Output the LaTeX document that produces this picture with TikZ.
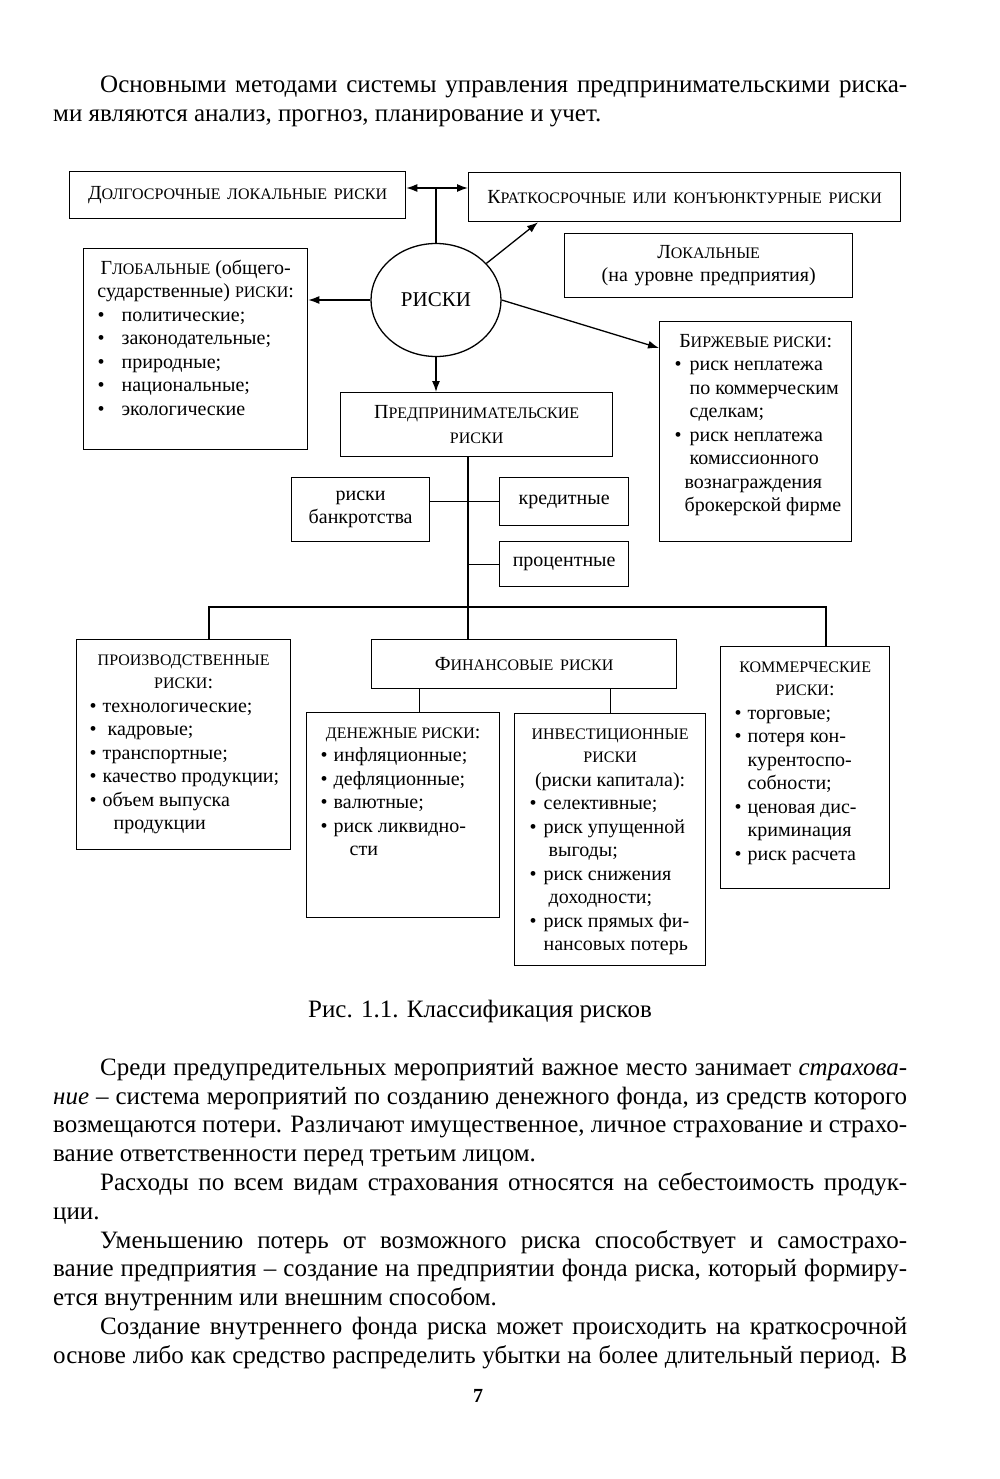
\documentclass[tikz,border=0pt]{standalone}
\usepackage{fontspec}
\setmainfont{Liberation Serif}
\usetikzlibrary{shapes.geometric,arrows.meta}
% small capitals (the font has none)
\newcommand\sm[1]{{\fontsize{16}{23.5}\selectfont #1}}
% centred line, bullet line, continued line inside a list box
\newcommand\ctr[1]{\null\hfill#1\hfill\null}
\newcommand\itm[3]{\hspace*{#1pt}\makebox[\dimexpr#2pt-#1pt\relax][l]{\textbullet}#3}
\newcommand\cnt[2]{\hspace*{#1pt}#2}
\newcommand\listbox[3]{\parbox[t][#2pt][t]{#1pt}{\vspace*{9pt}\strut#3}}
% justified line of the page text
\newcommand\jl[1]{\makebox[854pt][s]{#1}}
\begin{document}
\begin{tikzpicture}[x=1pt, y=-1pt,
    box/.style={draw, line width=1.3pt, inner sep=0pt, anchor=north west, font=\fontsize{20}{23.5}\selectfont},
    lbl/.style={box, align=center},
    arr/.style={-{Latex[length=11pt,width=8pt]}, line width=1.3pt},
    link/.style={line width=1.3pt},
    body/.style={anchor=north west, inner sep=0pt, align=left, font=\fontsize{25}{28.8}\selectfont}
]
    \useasboundingbox (0,0) rectangle (1000,1479);

    % text above the figure
    \node[body] (p1) at (53,72) {\jl{\strut\hspace*{47pt}Основными методами системы управления предпринимательскими риска-}\\
        ми являются анализ, прогноз, планирование и учет.};

    % centre
    \node[ellipse, draw, line width=1.3pt, minimum width=130pt, minimum height=113pt, inner sep=0pt, font=\fontsize{21}{21}\selectfont] (risk) at (436,300) {РИСКИ};

    % upper boxes
    \node[lbl, text width=336pt, minimum height=47pt] (dolg) at (69,171) {Д\sm{ОЛГОСРОЧНЫЕ ЛОКАЛЬНЫЕ РИСКИ}};
    \node[lbl, text width=432pt, minimum height=49pt] (krat) at (468,172) {К\sm{РАТКОСРОЧНЫЕ ИЛИ КОНЪЮНКТУРНЫЕ РИСКИ}};
    \node[lbl, text width=288pt, minimum height=64pt] (lok) at (564,233) {Л\sm{ОКАЛЬНЫЕ}\\(на уровне предприятия)};
    \node[box] (glob) at (83,248) {\listbox{224}{201}{%
        \ctr{Г\sm{ЛОБАЛЬНЫЕ} (общего-}\\
        \ctr{сударственные) \sm{РИСКИ}:}\\
        \itm{14}{38}{политические;}\\
        \itm{14}{38}{законодательные;}\\
        \itm{14}{38}{природные;}\\
        \itm{14}{38}{национальные;}\\
        \itm{14}{38}{экологические}}};
    \node[box] (birzh) at (659,321) {\listbox{192}{220}{%
        \ctr{Б\sm{ИРЖЕВЫЕ РИСКИ}:}\\
        \itm{15}{30}{риск неплатежа}\\
        \cnt{30}{по коммерческим}\\
        \cnt{30}{сделкам;}\\
        \itm{15}{30}{риск неплатежа}\\
        \cnt{30}{комиссионного}\\
        \cnt{25}{вознаграждения}\\
        \cnt{25}{брокерской фирме}}};
    \node[lbl, text width=272pt, minimum height=64pt] (pred) at (340,392) {П\sm{РЕДПРИНИМАТЕЛЬСКИЕ}\\[2pt]\sm{РИСКИ}};

    % side boxes of the spine
    \node[lbl, text width=138pt, minimum height=64pt] (bankr) at (291,477) {риски\\банкротства};
    \node[lbl, text width=129pt, minimum height=48pt] (kred) at (499,477) {кредитные};
    \node[lbl, text width=129pt, minimum height=45pt] (proc) at (499,541) {процентные};

    % lower boxes
    \node[box] (proizv) at (76,639) {\listbox{214}{210}{%
        \ctr{\sm{ПРОИЗВОДСТВЕННЫЕ}}\\
        \ctr{\sm{РИСКИ}:}\\
        \itm{13}{26}{технологические;}\\
        \itm{13}{31}{кадровые;}\\
        \itm{13}{26}{транспортные;}\\
        \itm{13}{26}{качество продукции;}\\
        \itm{13}{26}{объем выпуска}\\
        \cnt{37}{продукции}}};
    \node[lbl, text width=305pt, minimum height=49pt] (fin) at (371,639) {Ф\sm{ИНАНСОВЫЕ РИСКИ}};
    \node[box] (den) at (306,712) {\listbox{193}{205}{%
        \ctr{\sm{ДЕНЕЖНЫЕ РИСКИ}:}\\
        \itm{14}{27}{инфляционные;}\\
        \itm{14}{27}{дефляционные;}\\
        \itm{14}{27}{валютные;}\\
        \itm{14}{27}{риск ликвидно-}\\
        \cnt{43}{сти}}};
    \node[box] (inv) at (514,713) {\listbox{191}{252}{%
        \ctr{\sm{ИНВЕСТИЦИОННЫЕ}}\\
        \ctr{\sm{РИСКИ}}\\
        \ctr{(риски капитала):}\\
        \itm{15}{29}{селективные;}\\
        \itm{15}{29}{риск упущенной}\\
        \cnt{34}{выгоды;}\\
        \itm{15}{29}{риск снижения}\\
        \cnt{34}{доходности;}\\
        \itm{15}{29}{риск прямых фи-}\\
        \cnt{29}{нансовых потерь}}};
    \node[box] (komm) at (720,646) {\listbox{169}{242}{%
        \ctr{\sm{КОММЕРЧЕСКИЕ}}\\
        \ctr{\sm{РИСКИ}:}\\
        \itm{14}{27}{торговые;}\\
        \itm{14}{27}{потеря кон-}\\
        \cnt{27}{курентоспо-}\\
        \cnt{27}{собности;}\\
        \itm{14}{27}{ценовая дис-}\\
        \cnt{27}{криминация}\\
        \itm{14}{27}{риск расчета}}};

    % connectors
    \coordinate (hub) at (436,188);
    \coordinate (bus) at (468,607);
    \coordinate (busL) at (209,607);
    \coordinate (busR) at (826,607);
    \draw[arr, {Latex[length=11pt,width=8pt]}-{Latex[length=11pt,width=8pt]}] (dolg.east |- hub) -- (krat.west |- hub);
    \draw[link] (hub) -- (risk.north);
    \draw[arr] (risk.36) -- ([xshift=70pt]krat.south west);
    \draw[arr] (risk.west) -- (risk.west -| glob.east);
    \draw[arr] (risk.east) -- ([yshift=-27pt]birzh.north west);
    \draw[arr] (risk.south) -- (risk.south |- pred.north);
    \draw[link] (bus |- pred.south) -- (bus);
    \draw[link] (bankr.east |- kred.west) -- (kred.west);
    \draw[link] (bus |- proc.west) -- (proc.west);
    \draw[link] (busL |- proizv.north) -- (busL) -- (busR) -- (busR |- komm.north);
    \draw[link] (bus) -- (bus |- fin.north);
    \draw[link] ([xshift=16pt]den.north) -- ([xshift=16pt]den.north |- fin.south);
    \draw[link] (inv.north) -- (inv.north |- fin.south);

    % caption and text below
    \node[anchor=base, font=\fontsize{25}{30}\selectfont] (cap) at (480,1017) {Рис. 1.1. Классификация рисков};
    \node[body] (p2) at (53,1055) {\jl{\strut\hspace*{47pt}Среди предупредительных мероприятий важное место занимает \textit{страхова-}}\\
        \jl{\textit{ние} – система мероприятий по созданию денежного фонда, из средств которого}\\
        \jl{возмещаются потери. Различают имущественное, личное страхование и страхо-}\\
        вание ответственности перед третьим лицом.\\
        \jl{\hspace*{47pt}Расходы по всем видам страхования относятся на себестоимость продук-}\\
        ции.\\
        \jl{\hspace*{47pt}Уменьшению потерь от возможного риска способствует и самострахо-}\\
        \jl{вание предприятия – создание на предприятии фонда риска, который формиру-}\\
        ется внутренним или внешним способом.\\
        \jl{\hspace*{47pt}Создание внутреннего фонда риска может происходить на краткосрочной}\\
        \jl{основе либо как средство распределить убытки на более длительный период. В}};
    \node[font=\fontsize{20}{24}\selectfont\bfseries] (pg) at (478,1396) {7};
\end{tikzpicture}
\end{document}
